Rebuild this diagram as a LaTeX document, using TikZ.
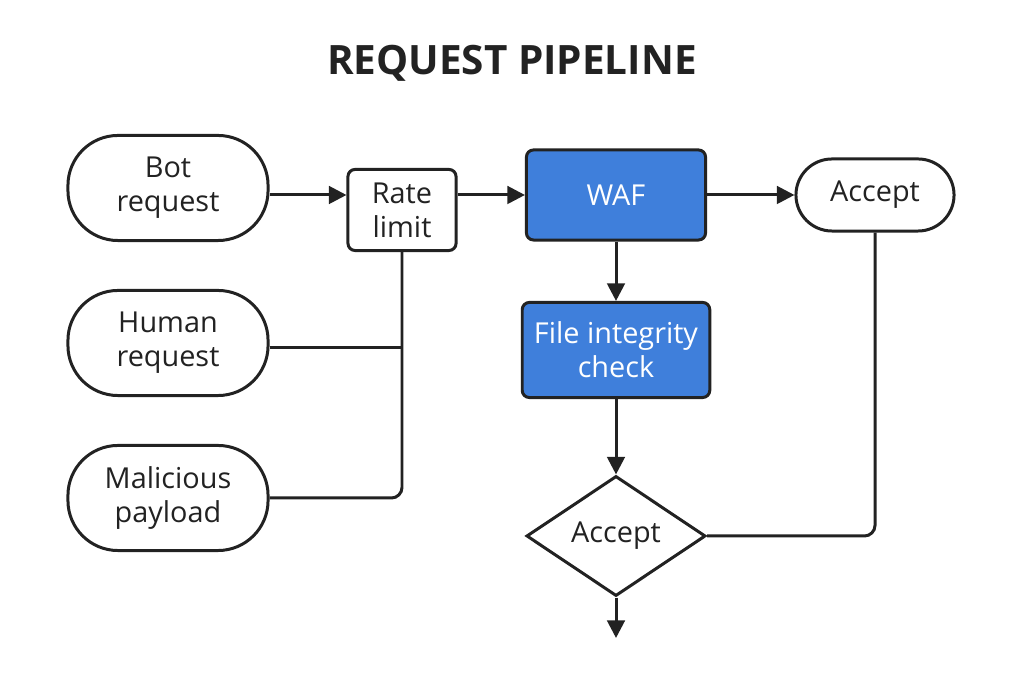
\documentclass[tikz,border=0pt]{standalone}
\usepackage{fontspec}
\setmainfont{Open Sans}
\usetikzlibrary{shapes.geometric,arrows.meta}
\definecolor{ink}{HTML}{222222}
\definecolor{wafblue}{HTML}{3F7FDB}

\begin{document}
\begin{tikzpicture}[x=0.01cm, y=-0.01cm,
    every node/.style={font=\fontsize{8.2}{9.6}\selectfont, text=ink, align=center},
    pill/.style={draw=ink, line width=0.85pt, rounded corners=0.5cm, minimum width=2cm, minimum height=1.05cm},
    box/.style={draw=ink, line width=0.85pt, rounded corners=2pt},
    blue/.style={box, fill=wafblue, text=white, minimum width=1.79cm},
    flow/.style={draw=ink, line width=0.85pt, -{Triangle[length=5pt,width=5pt]}},
    wire/.style={draw=ink, line width=0.85pt, rounded corners=3pt}]

        % frame of the whole picture
        \useasboundingbox[fill=white] (0,0) rectangle (1024,683);

        \node[font=\bfseries\fontsize{11.5}{13}\selectfont] (title) at (512,63) {REQUEST PIPELINE};

        % sources on the left
        \node[pill] (bot) at (168,188) {Bot\\request};
        \node[pill] (human) at (168,343) {Human\\request};
        \node[pill] (mal) at (168,498) {Malicious\\payload};

        % main chain
        \node[box, minimum width=1.08cm, minimum height=0.81cm] (rate) at (402,210) {Rate\\limit};
        \node[blue, minimum height=0.9cm] (waf) at (616,195) {WAF};
        \node[blue, minimum height=0.95cm] (fic) at (616,350) {File integrity\\check};
        \node[diamond, draw=ink, line width=0.85pt, aspect=1.5, minimum width=1.79cm, minimum height=1.2cm, inner sep=0pt] (dec) at (616,536) {Accept};
        \node[pill, minimum width=1.58cm, minimum height=0.72cm, rounded corners=0.36cm] (acc) at (875,195) {Accept};
        \coordinate (out) at (616,638);

        % connectors
        \draw[flow] (bot.east |- 0,195) -- (rate.west |- 0,195);
        \draw[flow] (rate.east |- 0,195) -- (waf.west);
        \draw[flow] (waf) -- (acc);
        \draw[flow] (waf) -- (fic);
        \draw[flow] (fic) -- (dec);
        \draw[flow] (dec) -- (out);
        \draw[wire] (dec.east) -| (acc.south);
        \draw[wire] (rate.south) |- (mal.east);
        \draw[wire] (human.east |- 0,348) -- (rate.south |- 0,348);
\end{tikzpicture}
\end{document}
